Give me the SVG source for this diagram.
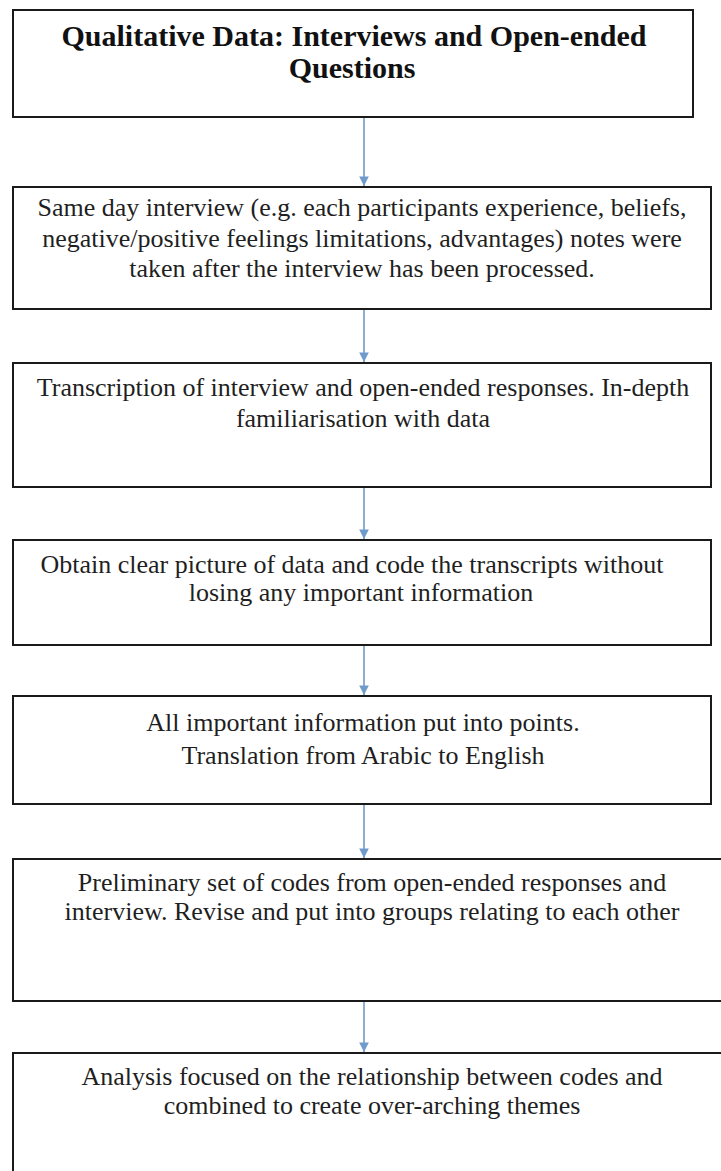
<svg xmlns="http://www.w3.org/2000/svg" width="721" height="1171" viewBox="0 0 721 1171">
<style>
.box{fill:#fff;stroke:#1a1a1a;stroke-width:2}
.t{font-family:"Liberation Serif","Times New Roman",serif;font-size:26px;fill:#1f1f1f;text-anchor:middle}
.h{font-family:"Liberation Serif","Times New Roman",serif;font-size:30px;font-weight:bold;fill:#111;text-anchor:middle}
.c{stroke:#6f9bcb;stroke-width:1.6;fill:none}
</style>
<defs>
<marker id="ah" viewBox="0 0 10 10" refX="10" refY="5" markerWidth="6" markerHeight="6" markerUnits="strokeWidth" orient="auto">
<path d="M0,0 L10,5 L0,10 z" fill="#6f9bcb"/>
</marker>
</defs>
<rect width="721" height="1171" fill="#fff"/>
<g id="connectors">
<line class="c" x1="364" y1="117" x2="364" y2="186" marker-end="url(#ah)"/>
<line class="c" x1="364" y1="309" x2="364" y2="362" marker-end="url(#ah)"/>
<line class="c" x1="364" y1="487" x2="364" y2="539" marker-end="url(#ah)"/>
<line class="c" x1="364" y1="645" x2="364" y2="695" marker-end="url(#ah)"/>
<line class="c" x1="364" y1="804" x2="364" y2="858" marker-end="url(#ah)"/>
<line class="c" x1="364" y1="1001" x2="364" y2="1052" marker-end="url(#ah)"/>
</g>
<g id="n1">
<rect class="box" x="13" y="10" width="680" height="107"/>
<text class="h" x="354" y="46">Qualitative Data: Interviews and Open-ended</text>
<text class="h" x="352" y="78">Questions</text>
</g>
<g id="n2">
<rect class="box" x="13" y="187" width="698" height="122"/>
<text class="t" x="362" y="216">Same day interview (e.g. each participants experience, beliefs,</text>
<text class="t" x="362" y="247">negative/positive feelings limitations, advantages) notes were</text>
<text class="t" x="362" y="277">taken after the interview has been processed.</text>
</g>
<g id="n3">
<rect class="box" x="13" y="363" width="698" height="124"/>
<text class="t" x="363" y="396">Transcription of interview and open-ended responses. In-depth</text>
<text class="t" x="363" y="427">familiarisation with data</text>
</g>
<g id="n4">
<rect class="box" x="13" y="540" width="698" height="105"/>
<text class="t" x="352" y="573">Obtain clear picture of data and code the transcripts without</text>
<text class="t" x="361" y="601">losing any important information</text>
</g>
<g id="n5">
<rect class="box" x="13" y="696" width="698" height="108"/>
<text class="t" x="363" y="731">All important information put into points.</text>
<text class="t" x="363" y="764">Translation from Arabic to English</text>
</g>
<g id="n6">
<rect class="box" x="13" y="859" width="720" height="142"/>
<text class="t" x="372" y="891">Preliminary set of codes from open-ended responses and</text>
<text class="t" x="372" y="920">interview. Revise and put into groups relating to each other</text>
</g>
<g id="n7">
<rect class="box" x="13" y="1053" width="720" height="130"/>
<text class="t" x="372" y="1085">Analysis focused on the relationship between codes and</text>
<text class="t" x="372" y="1114">combined to create over-arching themes</text>
</g>
</svg>
